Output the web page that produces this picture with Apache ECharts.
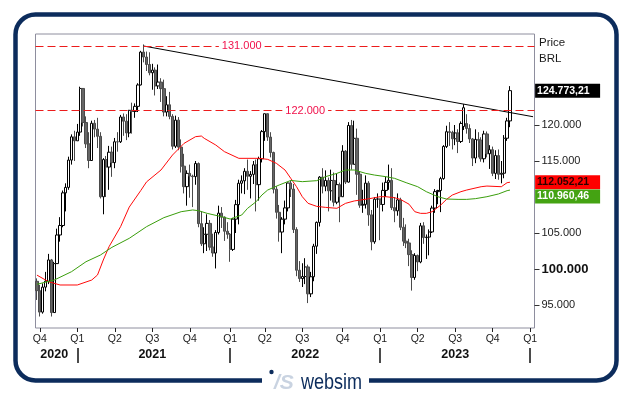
<!DOCTYPE html>
<html><head><meta charset="utf-8">
<script src="https://cdn.jsdelivr.net/npm/echarts@6/dist/echarts.min.js"></script>
<style>html,body{margin:0;padding:0;background:#fff}#c{width:629px;height:395px}</style>
</head><body><div id="c"></div>
<script>
const FONT = "'Liberation Sans', Arial, sans-serif";
// weekly categories (Monday of each week)
const firstWeek = '2020-09-21';
const weekCount = 173;
const categories = [];
(function () {
  const d0 = Date.parse(firstWeek + 'T00:00:00Z');
  for (let i = 0; i < weekCount; i++) categories.push(new Date(d0 + i * 7 * 86400000).toISOString().slice(0, 10));
})();

const quarterWeeks = ['2020-09-28','2020-12-28','2021-03-29','2021-06-28','2021-09-27','2022-01-03','2022-03-28','2022-06-27','2022-10-03','2023-01-02','2023-04-03','2023-07-03','2023-10-02','2024-01-01'];
const quarterLabels = ['Q4','Q1','Q2','Q3','Q4','Q1','Q2','Q3','Q4','Q1','Q2','Q3','Q4','Q1'];
const yearWeeks = ['2020-11-02','2021-06-28','2022-07-04','2023-07-03'];
const yearLabels = ['2020','2021','2022','2023'];
const yearSeparators = ['2020-12-28','2022-01-03','2023-01-02','2024-01-01'];
const yTicks = [95000, 100000, 105000, 115000, 120000];

const open = [98290,96999,94016,97483,98309,101260,93952,100751,104723,106042,110575,111335,115128,118355,117806,119017,125077,120348,117380,115068,120240,119429,118430,110035,115202,114160,116222,114781,117670,117669,121114,120530,118894,122038,121881,122592,125561,130126,129441,128405,127256,127622,125428,125960,125052,121800,122810,121194,117053,120677,116933,114286,111439,113283,112900,112833,114648,106296,103501,104824,106335,103035,102224,105070,107758,107201,105244,104822,102719,106928,108942,111910,112245,113572,112880,113142,114473,111713,115311,119081,121570,118322,116182,111078,107876,105135,106924,108488,111942,111102,105481,99825,98672,98954,100289,96551,98925,103165,106472,112764,111496,112299,110864,112300,109280,111716,110037,116375,112072,119929,114540,118155,113161,108870,108977,111924,107520,103776,109697,109735,108964,110916,112041,112316,108523,108076,109600,105798,103866,103618,102000,98829,101882,100978,106000,104367,104432,105148,108464,110745,110906,112558,117019,119068,118977,118087,118898,117711,119800,120200,119508,118065,115409,118000,117893,115313,118758,116009,116565,113284,115754,113155,113301,118160,120568];
const close = [96999,94016,97483,98309,101260,93952,100751,104723,106042,110575,111335,115128,118355,117806,119017,125077,120348,117380,115068,120240,119429,118430,110035,115202,114160,116222,114781,117670,117669,121114,120530,118894,122038,121881,122592,125561,130126,129441,128405,127256,127622,125428,125960,125052,121800,122810,121194,117053,120677,116933,114286,111439,113283,112900,112833,114648,106296,103501,104824,106335,103035,102224,105070,107758,107201,105244,104822,102719,106928,108942,111910,112245,113572,112880,113142,114473,111713,115311,119081,121570,118322,116182,111078,107876,105135,106924,108488,111942,111102,105481,99825,98672,98954,100289,96551,98925,103165,106472,112764,111496,112299,110864,112300,109280,111716,110037,116375,112072,119929,114540,118155,113161,108870,108977,111924,107520,103776,109697,109735,108964,110916,112041,112316,108523,108076,109600,105798,103866,103618,102000,98829,101882,100978,106000,104367,104432,105148,108464,110745,110906,112558,117019,119068,118977,118087,118898,117711,120217,122400,119508,118065,115409,118000,117893,115313,118758,116009,116565,113284,115754,113155,113301,118160,120568,124773];
const low = [95700,93400,93800,96900,97900,93400,93900,100700,103800,105800,108000,111000,114500,115000,117800,118500,119800,116800,114000,115000,118300,116800,109800,107600,110000,111000,112800,114000,116300,117500,118500,117900,118300,118800,121000,121800,125500,128700,127500,126900,124900,124100,125000,123200,121200,121200,120800,116600,116800,116500,113400,110500,108800,109900,108600,111700,105800,103200,102200,102500,102600,101700,100075,104800,105700,103900,104200,101000,102500,105000,106200,110500,110400,111000,109800,111800,108000,109500,114800,117800,117800,115500,110500,107000,103800,102200,106200,108000,110000,105000,99000,98200,97500,97900,95267,96100,98300,102100,105900,110500,110800,108000,109500,108700,109000,106500,110000,111800,112000,113800,114500,110300,108500,107800,108400,106000,102600,103500,108500,104000,108000,110000,111000,108200,106500,107400,105400,103200,102900,100400,97000,98500,99700,100800,103500,101400,101900,105000,107800,109000,107900,112400,116800,117100,116600,117200,116100,117500,119300,118800,117500,114300,114700,115500,114900,114800,115500,113900,112900,112500,112400,111900,112600,117800,119700];
const high = [98700,97800,98000,99600,102100,101400,101000,105600,107200,110900,111900,115600,118700,119200,120150,125323,125000,121200,119000,120600,120700,121000,119000,115400,115700,117100,117000,118200,119000,121400,121600,121500,122100,123100,123000,125800,130300,131190,130200,130100,128500,128000,128400,126500,126300,124000,124600,121500,121300,121100,118000,116000,113700,114500,113100,115000,114800,108000,105800,107600,106800,104900,105400,108800,108600,107300,106500,105000,107100,109600,112400,113000,114000,115200,113600,115000,115200,115600,119300,121571,121600,119000,116300,111500,108900,107200,109500,112000,112300,111800,105800,101100,100800,101500,100600,99600,103500,106600,112900,114000,113700,112700,113800,113400,113200,112000,117200,116500,120400,120700,120600,119500,113600,111000,113000,112200,108200,110000,110500,109800,112000,112800,114500,114000,110000,110500,109900,107100,106200,104200,102600,102200,102000,106400,106500,104800,105500,108800,111100,111000,112800,117200,119900,120400,119200,120000,119400,120500,122900,121500,120100,118200,119400,119000,118300,119200,119100,117200,117000,116500,116600,115000,118600,121000,125400];

// moving averages: [week index, value]
const maShort = [[0,99150],[4,98240],[8,97780],[14,97780],[19,98470],[21,99170],[23,101250],[25,103100],[29,105880],[32,108600],[36,110900],[38,112100],[43,113750],[47,115830],[51,117450],[55,118380],[57,118470],[58,118150],[62,117220],[65,116300],[70,115370],[77,115370],[80,115230],[83,114680],[86,113750],[88,112590],[90,111430],[92,110040],[94,109120],[97,108700],[100,108560],[104,108430],[107,109120],[110,109450],[115,109750],[119,110040],[121,110040],[124,109900],[126,109670],[129,109000],[131,107960],[133,107730],[135,107730],[137,107960],[140,108890],[142,109670],[144,110270],[147,110740],[149,110970],[154,111430],[156,111520],[161,111430],[163,111990],[164,112052]];
const maLong = [[0,97875],[6,98470],[12,99630],[17,101010],[22,101940],[26,103010],[32,104260],[38,105880],[44,107130],[50,107960],[54,108200],[56,108100],[59,107730],[64,107270],[67,106940],[71,107500],[73,108420],[76,109350],[78,110280],[80,110970],[84,111670],[88,112300],[92,112130],[97,112270],[100,112820],[104,113280],[107,113750],[110,113750],[114,113280],[117,113050],[121,112820],[124,112590],[128,111990],[132,111430],[135,110740],[139,110040],[142,109720],[146,109670],[149,109670],[152,109770],[156,110040],[160,110420],[163,110880],[164,110960]];

const trendStart = ['2021-06-07', 130970];
const trendEnd = ['2024-01-08', 121150];
const levels = [131000, 122000];
const levelTexts = ['131.000', '122.000'];
const levelLabelWeeks = ['2022-01-31', '2022-07-04'];
const lastValues = [124773.21, 112052.21, 110960.46];
const lastTexts = ['124.773,21', '112.052,21', '110.960,46'];

const idx = d => categories.indexOf(d);
const qIdx = new Map(quarterWeeks.map((w, i) => [idx(w), quarterLabels[i]]));
const yIdx = new Map(yearWeeks.map((w, i) => [idx(w), yearLabels[i]]));
const sepIdx = new Set(yearSeparators.map(idx));
const fmt = v => String(v).replace(/\B(?=(\d{3})+(?!\d))/g, '.');

const candles = open.map((o, i) => [o, close[i], low[i], high[i]]);

function sideLabel(value, text, bg, fg, dy) {
  return {
    coord: [weekCount - 1, value], symbol: 'circle', symbolSize: 0.1,
    itemStyle: { color: 'rgba(0,0,0,0)' },
    label: { show: true, position: 'right', distance: 2, offset: [0, dy], formatter: text,
      backgroundColor: bg, color: fg, fontSize: 10.5, fontWeight: 'bold', fontFamily: FONT,
      padding: [1, 2, 1, 2], width: 61, lineHeight: 12, align: 'left' }
  };
}
function levelLabel(week, value, text) {
  return {
    coord: [idx(week), value], symbol: 'circle', symbolSize: 0.1,
    itemStyle: { color: 'rgba(0,0,0,0)' },
    label: { show: true, position: 'inside', formatter: text, color: '#f0104a',
      backgroundColor: '#fff', padding: [1, 3, 0, 3], fontSize: 11, fontFamily: FONT }
  };
}

const chart = echarts.init(document.getElementById('c'));
chart.setOption({
  animation: false,
  backgroundColor: '#fff',
  title: { text: 'Price\nBRL', left: 539, top: 35, padding: 0,
    textStyle: { fontSize: 11.5, fontWeight: 'normal', color: '#1a1a1a', lineHeight: 16, fontFamily: FONT } },
  grid: { left: 35.5, top: 34, width: 499, height: 294, show: true, borderColor: '#8e8e9e', borderWidth: 1, backgroundColor: '#fff' },
  xAxis: [
    { type: 'category', data: categories, boundaryGap: true, position: 'bottom',
      axisLine: { show: false },
      axisTick: { show: true, alignWithLabel: true, interval: i => qIdx.has(i), length: 4, lineStyle: { color: '#222' } },
      axisLabel: { interval: i => qIdx.has(i), formatter: (v, i) => qIdx.get(i) || '', fontSize: 10.5, color: '#1a1a1a', margin: 6, fontFamily: FONT },
      splitLine: { show: false } },
    { type: 'category', data: categories, boundaryGap: true, position: 'bottom', offset: 20,
      axisLine: { show: false },
      axisTick: { show: true, alignWithLabel: true, interval: i => sepIdx.has(i), length: 15, lineStyle: { color: '#111', width: 1.5 } },
      axisLabel: { interval: i => yIdx.has(i), formatter: (v, i) => yIdx.get(i) || '', fontSize: 12.5, fontWeight: 'bold', color: '#111', margin: 7, verticalAlign: 'middle', fontFamily: FONT },
      splitLine: { show: false } }
  ],
  yAxis: { type: 'value', position: 'right', min: 91806, max: 132639,
    splitLine: { show: false }, axisLine: { show: false },
    axisTick: { show: true, customValues: yTicks, length: 5, lineStyle: { color: '#333' } },
    axisLabel: { customValues: yTicks, margin: 7, fontSize: 11, color: '#1a1a1a', fontFamily: FONT,
      formatter: v => v === 100000 ? '{b|' + fmt(v) + '}' : fmt(v),
      rich: { b: { fontWeight: 'bold', fontSize: 13, color: '#111', fontFamily: FONT } } } },
  series: [
    { type: 'candlestick', data: candles, barWidth: 2.8,
      itemStyle: { color: '#ffffff', color0: '#666666', borderColor: '#000', borderColor0: '#4a4a4a', borderWidth: 1 },
      markLine: { silent: true, symbol: ['none', 'none'], label: { show: false },
        lineStyle: { color: '#ec1c1c', type: [8, 4], width: 1 },
        data: levels.map(v => ({ yAxis: v })) },
      markPoint: { silent: true, data: [
        levelLabel(levelLabelWeeks[0], levels[0], levelTexts[0]),
        levelLabel(levelLabelWeeks[1], levels[1], levelTexts[1]),
        sideLabel(lastValues[0], lastTexts[0], '#000', '#fff', 0) ] } },
    { type: 'line', data: maShort, symbol: 'none', lineStyle: { color: '#ff0a0a', width: 1 },
      markPoint: { silent: true, data: [sideLabel(lastValues[1], lastTexts[1], '#ff0000', '#2a0000', 0)] } },
    { type: 'line', data: maLong, symbol: 'none', lineStyle: { color: '#3a9e0c', width: 1 },
      markPoint: { silent: true, data: [sideLabel(lastValues[2], lastTexts[2], '#44a312', '#fff', 6.5)] } },
    { type: 'line', data: [[idx(trendStart[0]), trendStart[1]], [idx(trendEnd[0]), trendEnd[1]]], symbol: 'none',
      lineStyle: { color: '#000', width: 1 } }
  ],
  graphic: [
    { type: 'rect', shape: { x: 15.5, y: 14.5, width: 601, height: 366, r: 20 }, style: { fill: null, stroke: '#0c2c5c', lineWidth: 4.5 }, z: 10 },
    { type: 'rect', shape: { x: 262, y: 374, width: 107, height: 14 }, style: { fill: '#fff' }, z: 11 },
    { type: 'circle', shape: { cx: 271.5, cy: 372, r: 2.2 }, style: { fill: '#0c2c5c' }, z: 12 },
    { type: 'text', x: 274, y: 383, style: { text: '/S', font: "italic bold 21px 'Liberation Sans', Arial, sans-serif", fill: '#c9d3e1', verticalAlign: 'middle' }, z: 12 },
    { type: 'text', x: 301, y: 383, scaleX: 0.82, style: { text: 'websim', font: "22px 'Liberation Sans', Arial, sans-serif", fill: '#0c2c5c', verticalAlign: 'middle' }, z: 12 }
  ]
});
</script></body></html>
